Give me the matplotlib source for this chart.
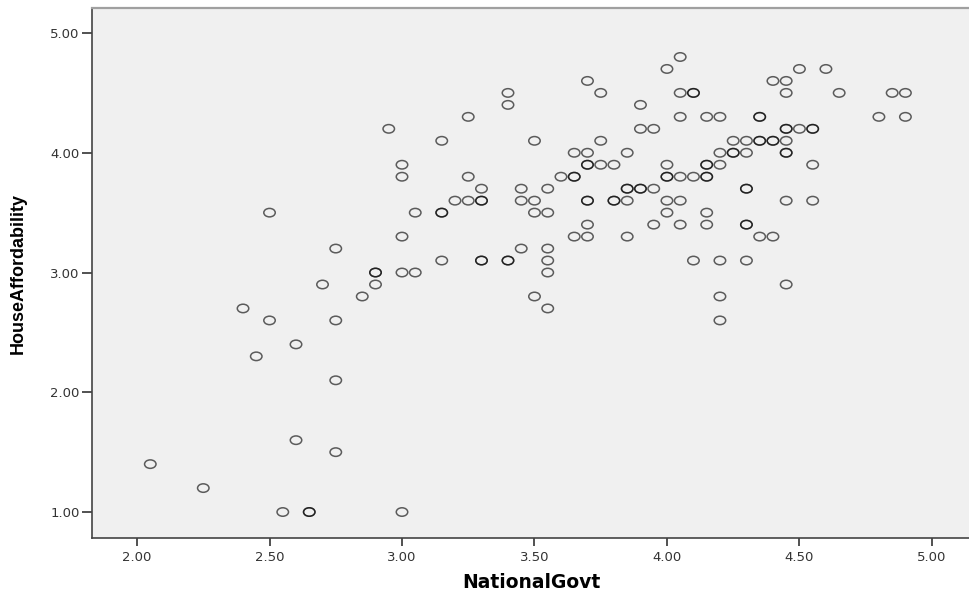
import numpy as np
import matplotlib.pyplot as plt
from matplotlib.path import Path

# NationalGovt vs HouseAffordability (repeated pairs are overlapping cases)
national_govt = [
    2.05, 2.25, 2.40, 2.45, 2.50, 2.50, 2.55, 2.60, 2.60, 2.65, 2.65,
    2.70, 2.75, 2.75, 2.75, 2.75, 2.85, 2.90, 2.90, 2.90, 2.95,
    3.00, 3.00, 3.00, 3.00, 3.00, 3.05, 3.05, 3.15, 3.15, 3.15, 3.15,
    3.20, 3.25, 3.25, 3.25, 3.30, 3.30, 3.30, 3.30, 3.30,
    3.40, 3.40, 3.40, 3.40, 3.45, 3.45, 3.45,
    3.50, 3.50, 3.50, 3.50, 3.55, 3.55, 3.55, 3.55, 3.55, 3.55,
    3.60, 3.65, 3.65, 3.65, 3.65,
    3.70, 3.70, 3.70, 3.70, 3.70, 3.70, 3.70, 3.70,
    3.75, 3.75, 3.75, 3.80, 3.80, 3.80,
    3.85, 3.85, 3.85, 3.85, 3.85, 3.90, 3.90, 3.90, 3.90,
    3.95, 3.95, 3.95, 4.00, 4.00, 4.00, 4.00, 4.00, 4.00,
    4.05, 4.05, 4.05, 4.05, 4.05, 4.05, 4.10, 4.10, 4.10, 4.10,
    4.15, 4.15, 4.15, 4.15, 4.15, 4.15, 4.15,
    4.20, 4.20, 4.20, 4.20, 4.20, 4.20, 4.25, 4.25, 4.25,
    4.30, 4.30, 4.30, 4.30, 4.30, 4.30, 4.30,
    4.35, 4.35, 4.35, 4.35, 4.35, 4.40, 4.40, 4.40, 4.40,
    4.45, 4.45, 4.45, 4.45, 4.45, 4.45, 4.45, 4.45, 4.45,
    4.50, 4.50, 4.55, 4.55, 4.55, 4.55, 4.60, 4.65, 4.80, 4.85, 4.90, 4.90,
]
house_afford = [
    1.4, 1.2, 2.7, 2.3, 3.5, 2.6, 1.0, 2.4, 1.6, 1.0, 1.0,
    2.9, 3.2, 2.6, 2.1, 1.5, 2.8, 3.0, 3.0, 2.9, 4.2,
    3.9, 3.8, 3.3, 3.0, 1.0, 3.5, 3.0, 4.1, 3.5, 3.5, 3.1,
    3.6, 4.3, 3.8, 3.6, 3.7, 3.6, 3.6, 3.1, 3.1,
    4.5, 4.4, 3.1, 3.1, 3.7, 3.6, 3.2,
    4.1, 3.6, 3.5, 2.8, 3.7, 3.5, 3.2, 3.1, 3.0, 2.7,
    3.8, 4.0, 3.8, 3.8, 3.3,
    4.6, 4.0, 3.9, 3.9, 3.6, 3.6, 3.4, 3.3,
    4.5, 4.1, 3.9, 3.9, 3.6, 3.6,
    4.0, 3.7, 3.7, 3.6, 3.3, 4.4, 4.2, 3.7, 3.7,
    4.2, 3.7, 3.4, 4.7, 3.9, 3.8, 3.8, 3.6, 3.5,
    4.8, 4.5, 4.3, 3.8, 3.6, 3.4, 4.5, 4.5, 3.8, 3.1,
    4.3, 3.9, 3.9, 3.8, 3.8, 3.5, 3.4,
    4.3, 4.0, 3.9, 3.1, 2.8, 2.6, 4.1, 4.0, 4.0,
    4.1, 4.0, 3.7, 3.7, 3.4, 3.4, 3.1,
    4.3, 4.3, 4.1, 4.1, 3.3, 4.6, 4.1, 4.1, 3.3,
    4.6, 4.5, 4.2, 4.2, 4.1, 4.0, 4.0, 3.6, 2.9,
    4.7, 4.2, 4.2, 4.2, 3.9, 3.6, 4.7, 4.5, 4.3, 4.5, 4.5, 4.3,
]

x_ticks = [2.0, 2.5, 3.0, 3.5, 4.0, 4.5, 5.0]
y_ticks = [1.0, 2.0, 3.0, 4.0, 5.0]

plt.rcParams['font.family'] = ['DejaVu Sans']

fig = plt.figure(figsize=(9.69, 5.96), dpi=100)
ax = fig.add_axes([92 / 969, 1 - 538 / 596, 877 / 969, 530 / 596])
ax.set_facecolor('#f0f0f0')

# SPSS circles look a bit squashed in the screenshot
circ = Path.unit_circle()
ellipse = Path(circ.vertices * np.array([1.0, 0.74]), circ.codes)

ax.scatter(national_govt, house_afford, marker=ellipse, s=68,
           facecolors='none', edgecolors='black', linewidths=1.1, alpha=0.62)

ax.set_xlim(1.83, 5.14)
ax.set_ylim(0.783, 5.209)
ax.set_xticks(x_ticks)
ax.set_yticks(y_ticks)
ax.set_xticklabels(['%.2f' % t for t in x_ticks])
ax.set_yticklabels(['%.2f' % t for t in y_ticks])
ax.tick_params(axis='x', length=6, width=1.2, color='#333333', pad=3.5,
               labelsize=9.5, labelcolor='#333333')
ax.tick_params(axis='y', length=7.5, width=1.2, color='#333333', pad=1.5,
               labelsize=9.5, labelcolor='#333333')

for side in ['left', 'bottom']:
    ax.spines[side].set_color('#444444')
    ax.spines[side].set_linewidth(1.2)
ax.spines['top'].set_color('#a0a0a0')
ax.spines['top'].set_linewidth(1.6)
ax.spines['right'].set_visible(False)

ax.set_xlabel('NationalGovt', family='DejaVu Sans', fontweight='bold',
              fontsize=13.5, color='black')
ax.set_ylabel('HouseAffordability', family=['Liberation Sans', 'DejaVu Sans'],
              fontweight='bold', fontsize=13, color='black')
ax.xaxis.set_label_coords((531 - 92) / 877, (538 - 583) / 530)
ax.xaxis.label.set_va('center')
ax.yaxis.set_label_coords((18 - 92) / 877, (538 - 273) / 530)
ax.yaxis.label.set_va('center')

fig.savefig('out.png', dpi=100)
